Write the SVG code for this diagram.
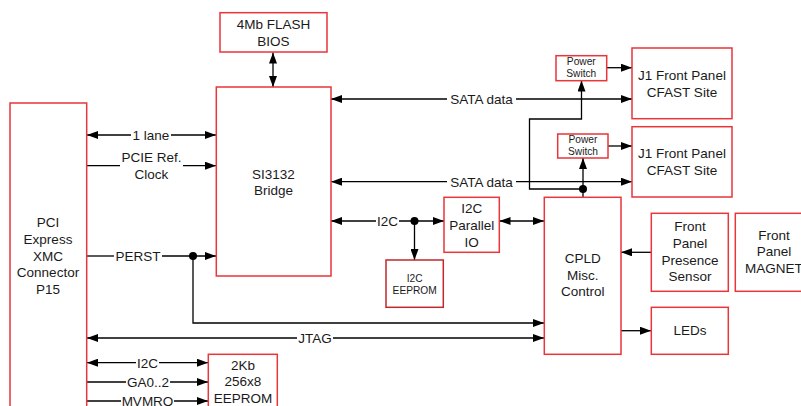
<svg xmlns="http://www.w3.org/2000/svg" width="801" height="406" viewBox="0 0 801 406">
<defs>
<marker id="ah" markerUnits="userSpaceOnUse" markerWidth="11" markerHeight="8" refX="11" refY="4" orient="auto-start-reverse">
<path d="M0,0 L11,4 L0,8 z" fill="#000"/>
</marker>
<style>
.box{fill:#fff;stroke:#e8363a;stroke-width:1.5}
.box2{fill:#fff;stroke:#c0282d;stroke-width:1.5}
.t{font-family:"Liberation Sans",Arial,sans-serif;font-size:13.5px;fill:#1a1a1a;text-anchor:middle}
.s{font-family:"Liberation Sans",Arial,sans-serif;font-size:10.2px;fill:#1a1a1a;text-anchor:middle}
.c{fill:none;stroke:#000;stroke-width:1.3}
.a{marker-end:url(#ah)}
.b{marker-start:url(#ah)}
.d{marker-start:url(#ah);marker-end:url(#ah)}
</style>
</defs>
<rect width="801" height="406" fill="#fff"/>
<g id="connectors">
<path class="c d" d="M273,52.5 V87"/>
<path class="c b" d="M87,135 H131"/><path class="c a" d="M171,135 H216"/>
<path class="c" d="M87,165.7 H120"/><path class="c a" d="M183,165.7 H216"/>
<path class="c" d="M87,256 H114"/><path class="c a" d="M162,256 H216"/>
<circle cx="193" cy="256" r="4" fill="#000"/>
<path class="c a" d="M193,256 V323 H544"/>
<path class="c b" d="M87,338 H297"/><path class="c a" d="M333,338 H544"/>
<path class="c b" d="M87,362.7 H136"/><path class="c a" d="M159,362.7 H208"/>
<path class="c" d="M87,382 H126"/><path class="c a" d="M170,382 H208"/>
<path class="c" d="M87,401 H121"/><path class="c a" d="M174,401 H208"/>
<path class="c b" d="M331,99 H447"/><path class="c a" d="M516,99 H632"/>
<path class="c b" d="M331,181.7 H447"/><path class="c a" d="M516,181.7 H632"/>
<path class="c b" d="M331,221 H376"/><path class="c a" d="M399,221 H444"/>
<circle cx="414.5" cy="221" r="4" fill="#000"/>
<path class="c a" d="M414.5,221 V260"/>
<path class="c d" d="M499.5,221 H544"/>
<path class="c a" d="M607,67.7 H632"/>
<path class="c a" d="M608,146 H632"/>
<path class="c a" d="M583,189 H529.5 V119 H581.5 V80.5"/>
<circle cx="583" cy="189" r="4" fill="#000"/>
<path class="c a" d="M583,189 V158"/>
<path class="c" d="M583,189 V197"/>
<path class="c a" d="M651,252.3 H621"/>
<path class="c a" d="M621,330.7 H651"/>
</g>
<g class="labels">
<text class="t" x="151" y="140">1 lane</text>
<text class="t" x="151.5" y="161.5">PCIE Ref.</text>
<text class="t" x="151.5" y="178.5">Clock</text>
<text class="t" x="138" y="261">PERST</text>
<text class="t" x="315" y="343">JTAG</text>
<text class="t" x="147.5" y="367.5">I2C</text>
<text class="t" x="148" y="387">GA0..2</text>
<text class="t" x="147.5" y="406">MVMRO</text>
<text class="t" x="481.5" y="104">SATA data</text>
<text class="t" x="481.5" y="186.5">SATA data</text>
<text class="t" x="387.5" y="226">I2C</text>
</g>
<g id="pci">
<rect class="box" x="10" y="103" width="76.7" height="320"/>
<text class="t" x="48" y="227.4">PCI</text>
<text class="t" x="48" y="244">Express</text>
<text class="t" x="48" y="260.5">XMC</text>
<text class="t" x="48" y="277">Connector</text>
<text class="t" x="48" y="293.5">P15</text>
</g>
<g id="flash">
<rect class="box" x="220" y="12.7" width="107" height="39.3"/>
<text class="t" x="273.5" y="29">4Mb FLASH</text>
<text class="t" x="273.5" y="45.7">BIOS</text>
</g>
<g id="bridge">
<rect class="box" x="216.3" y="87" width="114.7" height="189"/>
<text class="t" x="273.5" y="178.7">SI3132</text>
<text class="t" x="273.5" y="195">Bridge</text>
</g>
<g id="ps1">
<rect class="box" x="556" y="55.7" width="50.7" height="25"/>
<text class="s" x="581.3" y="64.8">Power</text>
<text class="s" x="581.3" y="77">Switch</text>
</g>
<g id="ps2">
<rect class="box" x="557.7" y="134" width="50.3" height="24"/>
<text class="s" x="583" y="143.2">Power</text>
<text class="s" x="583" y="155.3">Switch</text>
</g>
<g id="j1a">
<rect class="box" x="632" y="48" width="100" height="70.7"/>
<text class="t" x="682" y="80">J1 Front Panel</text>
<text class="t" x="682" y="96.5">CFAST Site</text>
</g>
<g id="j1b">
<rect class="box" x="632" y="126.7" width="100" height="70.3"/>
<text class="t" x="682" y="158">J1 Front Panel</text>
<text class="t" x="682" y="174.5">CFAST Site</text>
</g>
<g id="pio">
<rect class="box" x="444" y="197.3" width="55.3" height="55"/>
<text class="t" x="471.7" y="213">I2C</text>
<text class="t" x="471.7" y="229.7">Parallel</text>
<text class="t" x="471.7" y="246.5">IO</text>
</g>
<g id="i2ceeprom">
<rect class="box2" x="386" y="260" width="57.3" height="47.3"/>
<text class="s" x="414.7" y="281.6">I2C</text>
<text class="s" x="414.7" y="294">EEPROM</text>
</g>
<g id="cpld">
<rect class="box" x="544.3" y="197.3" width="76.7" height="157"/>
<text class="t" x="582.7" y="263">CPLD</text>
<text class="t" x="582.7" y="279.5">Misc.</text>
<text class="t" x="582.7" y="296">Control</text>
</g>
<g id="presence">
<rect class="box" x="651.3" y="213.3" width="77" height="78"/>
<text class="t" x="690" y="231.4">Front</text>
<text class="t" x="690" y="248">Panel</text>
<text class="t" x="690" y="264.5">Presence</text>
<text class="t" x="690" y="281">Sensor</text>
</g>
<g id="magnet">
<rect class="box" x="735.3" y="213.3" width="80" height="78"/>
<text class="t" x="774" y="239.7">Front</text>
<text class="t" x="774" y="256.3">Panel</text>
<text class="t" x="774" y="272.8">MAGNET</text>
</g>
<g id="leds">
<rect class="box" x="651.3" y="307.3" width="77" height="47"/>
<text class="t" x="690" y="335">LEDs</text>
</g>
<g id="eeprom2k">
<rect class="box" x="208.3" y="354.3" width="69" height="70"/>
<text class="t" x="243" y="369.7">2Kb</text>
<text class="t" x="243" y="386.3">256x8</text>
<text class="t" x="243" y="402.8">EEPROM</text>
</g>
</svg>
